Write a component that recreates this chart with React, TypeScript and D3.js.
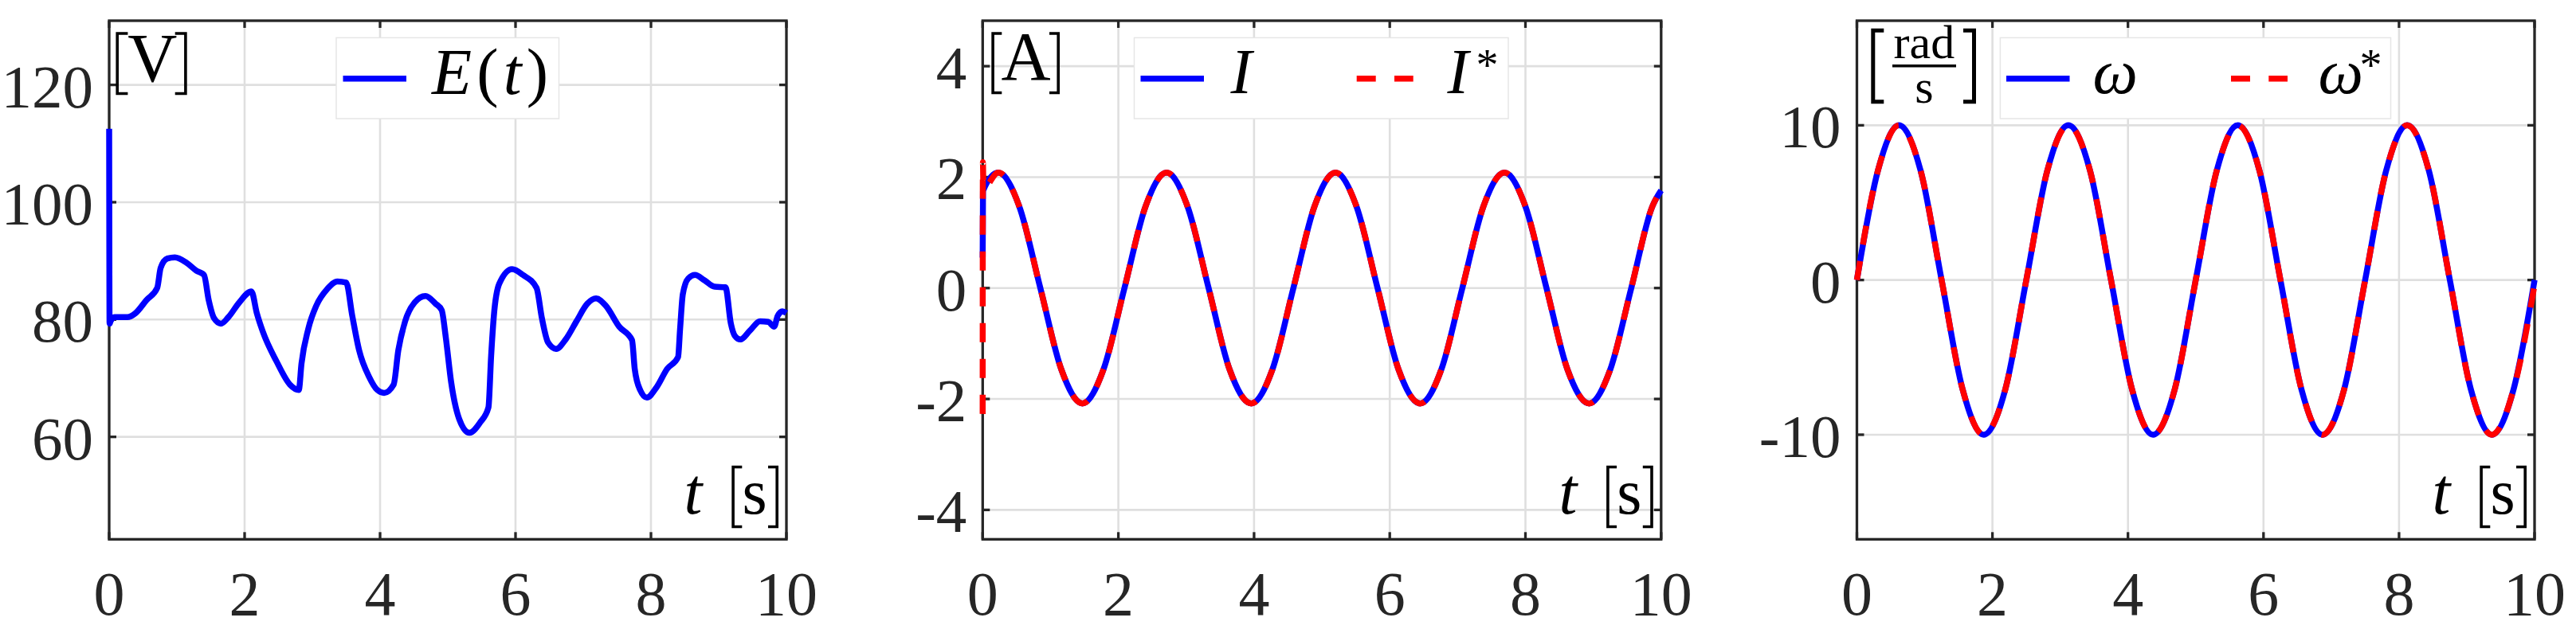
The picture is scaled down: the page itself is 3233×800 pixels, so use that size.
import React from 'react';
import * as d3 from 'd3';

// time axis shared by all three panels
const xTicks = [0, 2, 4, 6, 8, 10];

// E(t) [V]
const tE = [0, 0.006, 0.02, 0.08, 0.27, 0.39, 0.55, 0.71, 0.76, 0.86, 0.97, 1.14, 1.29, 1.4, 1.47, 1.55, 1.65, 1.76, 1.92, 2.1,
  2.18, 2.27, 2.47, 2.67, 2.8, 2.84, 2.94, 3.06, 3.22, 3.37, 3.5, 3.59, 3.69, 3.84, 3.96, 4.06, 4.2, 4.27, 4.37, 4.51,
  4.67, 4.82, 4.91, 4.97, 5.05, 5.17, 5.32, 5.48, 5.6, 5.64, 5.68, 5.76, 5.95, 6.11, 6.31, 6.39, 6.48, 6.6, 6.74, 6.9,
  7.06, 7.19, 7.33, 7.53, 7.72, 7.76, 7.84, 7.94, 8.08, 8.24, 8.4, 8.43, 8.47, 8.55, 8.65, 8.79, 8.94, 9.1, 9.18, 9.24,
  9.32, 9.46, 9.61, 9.73, 9.82, 9.87, 9.94, 10];
const vE = [112.5, 79.3, 79.7, 80.4, 80.4, 81.1, 83.3, 85.4, 88.8, 90.4, 90.6, 89.7, 88.3, 87.6, 83.3, 80.2, 79.3, 80.4, 82.9, 84.8,
  81.1, 77.9, 72.9, 68.9, 68.0, 72.5, 78.4, 82.4, 85.2, 86.5, 86.3, 80.6, 74.8, 70.2, 68.0, 67.5, 68.9, 74.8, 79.7, 82.9,
  84.0, 82.7, 81.6, 77.0, 69.3, 63.0, 60.7, 62.5, 65.0, 73.8, 80.6, 86.1, 88.6, 87.6, 85.4, 80.2, 76.1, 75.0, 76.6, 79.7,
  82.7, 83.6, 82.4, 78.8, 76.5, 71.6, 68.0, 66.7, 68.4, 71.6, 73.6, 78.4, 84.3, 87.0, 87.6, 86.7, 85.6, 85.5, 79.3, 77.2,
  76.6, 78.1, 79.7, 79.6, 78.8, 80.6, 81.4, 81.1];
const yTicksE = [60, 80, 100, 120];

// I and I* [A]
const tI = [0, 0.005, 0.23, 0.54, 0.85, 1.16, 1.47, 1.78, 2.09, 2.4, 2.71, 3.02, 3.33, 3.64, 3.96, 4.27, 4.58, 4.89, 5.2,
  5.51, 5.82, 6.13, 6.45, 6.76, 7.07, 7.38, 7.69, 8.0, 8.31, 8.62, 8.94, 9.25, 9.56, 9.87, 10];
const vI = [0.55, 1.75, 2.08, 1.47, 0, -1.47, -2.08, -1.47, 0, 1.47, 2.08, 1.47, 0, -1.47, -2.08, -1.47, 0, 1.47, 2.08,
  1.47, 0, -1.47, -2.08, -1.47, 0, 1.47, 2.08, 1.47, 0, -1.47, -2.08, -1.47, 0, 1.47, 1.76];
const tIref = [0, 0.003, 0.012, 0.23, 0.54, 0.85, 1.16, 1.47, 1.78, 2.09, 2.4, 2.71, 3.02, 3.33, 3.64, 3.96, 4.27, 4.58, 4.89, 5.2,
  5.51, 5.82, 6.13, 6.45, 6.76, 7.07, 7.38, 7.69, 8.0, 8.31, 8.62, 8.94, 9.25, 9.56, 9.87, 10];
const vIref = [-2.27, 2.27, 1.8, 2.08, 1.47, 0, -1.47, -2.08, -1.47, 0, 1.47, 2.08, 1.47, 0, -1.47, -2.08, -1.47, 0, 1.47, 2.08,
  1.47, 0, -1.47, -2.08, -1.47, 0, 1.47, 2.08, 1.47, 0, -1.47, -2.08, -1.47, 0, 1.47, 1.76];
const yTicksI = [-4, -2, 0, 2, 4];

// omega and omega* [rad/s]
const tW = [0, 0.31, 0.62, 0.94, 1.25, 1.56, 1.87, 2.19, 2.5, 2.81, 3.12, 3.44, 3.75, 4.06, 4.37, 4.69, 5.0, 5.31, 5.62,
  5.94, 6.25, 6.56, 6.87, 7.19, 7.5, 7.81, 8.12, 8.44, 8.75, 9.06, 9.37, 9.69, 10];
const vW = [0, 7.07, 10, 7.07, 0, -7.07, -10, -7.07, 0, 7.07, 10, 7.07, 0, -7.07, -10, -7.07, 0, 7.07, 10,
  7.07, 0, -7.07, -10, -7.07, 0, 7.07, 10, 7.07, 0, -7.07, -10, -7.07, 0];
const vWref = [0, 7.07, 10, 7.07, 0, -7.07, -10, -7.07, 0, 7.07, 10, 7.07, 0, -7.07, -10, -7.07, 0, 7.07, 10,
  7.07, 0, -7.07, -10, -7.07, 0, 7.07, 10, 7.07, 0, -7.07, -10, -7.07, -0.3];
const yTicksW = [-10, 0, 10];

const SERIF = "'Liberation Serif', 'Times New Roman', serif";
const INK = '#262626';
const TOP = 26;
const BOTTOM = 677.3;

type Series = { t: number[]; v: number[]; color: string; dash?: string };
type LegendItem = { sym: string; star?: boolean; lineX: number; textX: number; starX?: number; dash?: string; color: string };

const zip = (t: number[], v: number[]) => t.map((d, i) => [d, v[i]] as [number, number]);

function Bracket({ x, y0, y1, side, arm = 13, sw = 3.6 }: { x: number; y0: number; y1: number; side: 'l' | 'r'; arm?: number; sw?: number }) {
  const s = side === 'l' ? 1 : -1;
  const xo = x + s * sw / 2;
  return (
    <path d={`M${xo + s * (arm - sw / 2)},${y0 + 1.5}H${xo}V${y1 - 1.5}H${xo + s * (arm - sw / 2)}`}
      fill="none" stroke="#000" strokeWidth={sw} />
  );
}

function Panel({ left, right, yDomain, yTicks, series, legend, legendBox, unit }: {
  left: number; right: number; yDomain: [number, number]; yTicks: number[]; series: Series[];
  legend: LegendItem[]; legendBox: [number, number]; unit: React.ReactNode;
}) {
  const x = d3.scaleLinear().domain([0, 10]).range([left, right]);
  const y = d3.scaleLinear().domain(yDomain).range([BOTTOM, TOP]);
  const line = d3.line<[number, number]>().x(d => x(d[0])).y(d => y(d[1])).curve(d3.curveMonotoneX);
  const tick = 9;
  const [bx0, bx1] = legendBox;

  return (
    <g>
      {/* grid */}
      {xTicks.map(t => (
        <line key={'gx' + t} x1={x(t)} x2={x(t)} y1={TOP} y2={BOTTOM} stroke="#dfdfdf" strokeWidth={2.6} />
      ))}
      {yTicks.map(v => (
        <line key={'gy' + v} x1={left} x2={right} y1={y(v)} y2={y(v)} stroke="#dfdfdf" strokeWidth={2.6} />
      ))}

      {/* box + inward ticks */}
      <rect x={left} y={TOP} width={right - left} height={BOTTOM - TOP} fill="none" stroke={INK} strokeWidth={3.3} />
      {xTicks.map(t => (
        <g key={'tx' + t}>
          <line x1={x(t)} x2={x(t)} y1={BOTTOM} y2={BOTTOM - tick} stroke={INK} strokeWidth={3.3} />
          <line x1={x(t)} x2={x(t)} y1={TOP} y2={TOP + tick} stroke={INK} strokeWidth={3.3} />
        </g>
      ))}
      {yTicks.map(v => (
        <g key={'ty' + v}>
          <line x1={left} x2={left + tick} y1={y(v)} y2={y(v)} stroke={INK} strokeWidth={3.3} />
          <line x1={right} x2={right - tick} y1={y(v)} y2={y(v)} stroke={INK} strokeWidth={3.3} />
        </g>
      ))}

      {/* tick labels */}
      {xTicks.map(t => (
        <text key={'lx' + t} x={x(t)} y={772} textAnchor="middle" fontFamily={SERIF} fontSize={78} fill={INK}>{t}</text>
      ))}
      {yTicks.map(v => (
        <text key={'ly' + v} x={left - 20} y={y(v) + 28} textAnchor="end" fontFamily={SERIF} fontSize={77} fill={INK}>{v}</text>
      ))}

      {/* data */}
      {series.map((s, i) => (
        <path key={'s' + i} d={line(zip(s.t, s.v)) || ''} fill="none" stroke={s.color} strokeWidth={7.5}
          strokeDasharray={s.dash} strokeLinejoin="round" />
      ))}

      {unit}

      {/* t [s] */}
      <text x={right - 117} y={645} textAnchor="middle" fontFamily={SERIF} fontStyle="italic" fontSize={82} fill="#000">t</text>
      <Bracket x={right - 68.7} y0={585} y1={663} side="l" />
      <text x={right - 40} y={645} textAnchor="middle" fontFamily={SERIF} fontSize={80} fill="#000">s</text>
      <Bracket x={right - 10} y0={585} y1={663} side="r" />

      {/* legend */}
      <rect x={left + bx0} y={47.4} width={bx1 - bx0} height={101.6} fill="#fff" stroke="#e6e6e6" strokeWidth={1.5} />
      {legend.map((it, i) => (
        <g key={'lg' + i}>
          <line x1={left + bx0 + it.lineX} x2={left + bx0 + it.lineX + 71 + (it.dash ? 0 : 8.5)} y1={98.8} y2={98.8}
            stroke={it.color} strokeWidth={7.5} strokeDasharray={it.dash} />
          <text x={left + bx0 + it.textX} y={117} fontFamily={SERIF} fontStyle="italic" fontSize={80} fill="#000">{it.sym}</text>
          {it.star && (
            <text x={left + bx0 + (it.starX || 0)} y={101} fontFamily={SERIF} fontSize={56} fill="#000">*</text>
          )}
        </g>
      ))}
    </g>
  );
}

export default function App() {
  const p1 = { left: 137, right: 987 };
  const p2 = { left: 1233.3, right: 2084.8 };
  const p3 = { left: 2330.5, right: 3181 };

  const unitV = (
    <g>
      <Bracket x={p1.left + 8.4} y0={40.5} y1={119} side="l" arm={15} />
      <text x={p1.left + 54.3} y={102} textAnchor="middle" fontFamily={SERIF} fontSize={86} fill="#000">V</text>
      <Bracket x={p1.left + 97.7} y0={40.5} y1={119} side="r" arm={15} />
    </g>
  );
  const unitA = (
    <g>
      <Bracket x={p2.left + 11} y0={40.5} y1={118} side="l" />
      <text x={p2.left + 54.2} y={100} textAnchor="middle" fontFamily={SERIF} fontSize={86} fill="#000">A</text>
      <Bracket x={p2.left + 96.7} y0={40.5} y1={118} side="r" />
    </g>
  );
  const unitW = (
    <g>
      <Bracket x={p3.left + 17.8} y0={36.7} y1={129.3} side="l" arm={16} sw={5} />
      <text x={p3.left + 84.4} y={72.7} textAnchor="middle" fontFamily={SERIF} fontSize={60} fill="#000">rad</text>
      <line x1={p3.left + 44.5} x2={p3.left + 124.5} y1={82.7} y2={82.7} stroke="#000" strokeWidth={3.5} />
      <text x={p3.left + 84.4} y={129} textAnchor="middle" fontFamily={SERIF} fontSize={60} fill="#000">s</text>
      <Bracket x={p3.left + 149.5} y0={36.7} y1={129.3} side="r" arm={16} sw={5} />
    </g>
  );

  const dash = '24 21';

  return (
    <svg width={3233} height={800} style={{ position: 'absolute', left: 0, top: 0, background: '#fff' }}>
      <rect x={0} y={0} width={3233} height={800} fill="#fff" />

      <Panel left={p1.left} right={p1.right} yDomain={[42.54, 130.94]} yTicks={yTicksE}
        series={[{ t: tE, v: vE, color: '#0000ff' }]}
        legendBox={[285, 564.5]}
        legend={[]}
        unit={unitV} />
      {/* E(t) legend text has mixed styles, drawn separately */}
      <line x1={430.5} x2={510} y1={98.8} y2={98.8} stroke="#0000ff" strokeWidth={7.5} />
      <text x={542} y={118} fontFamily={SERIF} fontSize={82} fill="#000" textLength={146} lengthAdjust="spacing">
        <tspan fontStyle="italic">E</tspan><tspan>(</tspan><tspan fontStyle="italic">t</tspan><tspan>)</tspan>
      </text>

      <Panel left={p2.left} right={p2.right} yDomain={[-4.53, 4.82]} yTicks={yTicksI}
        series={[
          { t: tI, v: vI, color: '#0000ff' },
          { t: tIref, v: vIref, color: '#ff0000', dash },
        ]}
        legendBox={[190.2, 659.7]}
        legend={[
          { sym: 'I', lineX: 8, textX: 121, color: '#0000ff' },
          { sym: 'I', star: true, lineX: 279.2, textX: 393, starX: 429, color: '#ff0000', dash: '24 23.3' },
        ]}
        unit={unitA} />

      <Panel left={p3.left} right={p3.right} yDomain={[-16.76, 16.76]} yTicks={yTicksW}
        series={[
          { t: tW, v: vW, color: '#0000ff' },
          { t: tW, v: vWref, color: '#ff0000', dash },
        ]}
        legendBox={[179.9, 670]}
        legend={[
          { sym: 'ω', lineX: 7.6, textX: 116, color: '#0000ff' },
          { sym: 'ω', star: true, lineX: 289.6, textX: 399, starX: 451, color: '#ff0000', dash: '24 23.3' },
        ]}
        unit={unitW} />
    </svg>
  );
}
